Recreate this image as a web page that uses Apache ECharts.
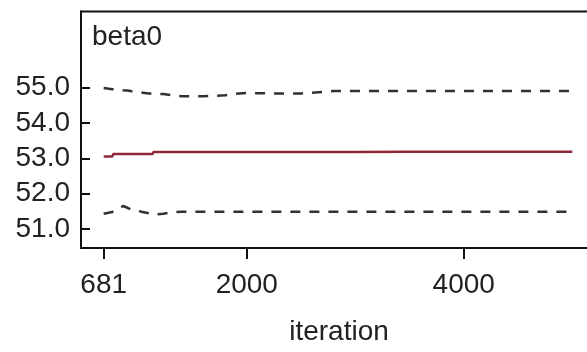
<!DOCTYPE html>
<html>
<head>
<meta charset="utf-8">
<script src="https://cdn.jsdelivr.net/npm/echarts@6/dist/echarts.min.js"></script>
<style>
  html, body { margin: 0; padding: 0; background: #ffffff; }
  #chart { width: 587px; height: 352px; }
</style>
</head>
<body>
<div id="chart"></div>
<script>
// Running quantiles of beta0 over the MCMC iterations
const iterations = [681, 760, 770, 860, 900, 940, 1000, 1040, 1100, 1130, 1140, 1230, 1300, 1400, 1500, 1600, 1700, 1800, 1900, 2000, 2200, 2500, 2700, 2800, 3000, 3500, 4000, 4500, 5000];
const median = [53.05, 53.05, 53.12, 53.12, 53.12, 53.12, 53.12, 53.12, 53.12, 53.12, 53.18, 53.18, 53.18, 53.18, 53.18, 53.18, 53.18, 53.18, 53.18, 53.18, 53.18, 53.18, 53.18, 53.18, 53.18, 53.19, 53.19, 53.19, 53.19];
const upper97_5 = [54.99, 54.96, 54.96, 54.93, 54.92, 54.90, 54.87, 54.86, 54.84, 54.84, 54.84, 54.82, 54.79, 54.76, 54.76, 54.76, 54.77, 54.79, 54.83, 54.85, 54.84, 54.84, 54.88, 54.91, 54.91, 54.91, 54.91, 54.91, 54.91];
const lower2_5 = [51.43, 51.48, 51.50, 51.65, 51.60, 51.54, 51.51, 51.48, 51.44, 51.41, 51.40, 51.43, 51.47, 51.49, 51.49, 51.49, 51.49, 51.49, 51.49, 51.49, 51.49, 51.49, 51.49, 51.49, 51.49, 51.49, 51.49, 51.49, 51.49];

const xTicks = [681, 2000, 4000];
const yTicks = [51, 52, 53, 54, 55];
const title = 'beta0';
const xName = 'iteration';

const pairs = (vals) => iterations.map((it, i) => [it, vals[i]]);

const font = "'Liberation Sans', Arial, sans-serif";
const textColor = '#222222';

const chart = echarts.init(document.getElementById('chart'), null, { renderer: 'canvas' });

chart.setOption({
  animation: false,
  backgroundColor: '#ffffff',
  title: {
    text: title,
    left: 92,
    top: 23,
    padding: 0,
    textStyle: { fontFamily: font, fontSize: 28, fontWeight: 'normal', color: textColor }
  },
  grid: {
    left: 81,
    top: 11.5,
    width: 516,
    height: 236.5,
    outerBoundsMode: 'none',
    containLabel: false,
    show: true,
    borderColor: '#111111',
    borderWidth: 2,
    backgroundColor: 'transparent'
  },
  xAxis: {
    type: 'value',
    min: 472,
    max: 5228,
    name: xName,
    nameLocation: 'middle',
    nameGap: 70,
    nameTextStyle: { fontFamily: font, fontSize: 28, color: textColor },
    axisLine: { show: true, lineStyle: { color: '#111111', width: 2 } },
    axisTick: { show: true, inside: false, length: 11, customValues: xTicks, lineStyle: { color: '#111111', width: 2 } },
    axisLabel: {
      customValues: xTicks,
      margin: 23,
      fontFamily: font,
      fontSize: 28,
      color: textColor,
      formatter: (v) => String(v)
    },
    splitLine: { show: false }
  },
  yAxis: {
    type: 'value',
    min: 50.46,
    max: 57.16,
    axisLine: { show: true, lineStyle: { color: '#111111', width: 2 } },
    axisTick: { show: true, inside: true, length: 9, customValues: yTicks, lineStyle: { color: '#111111', width: 2 } },
    axisLabel: {
      customValues: yTicks,
      margin: 11,
      fontFamily: font,
      fontSize: 28,
      color: textColor,
      formatter: (v) => v.toFixed(1)
    },
    splitLine: { show: false }
  },
  series: [
    {
      name: '97.5%',
      type: 'line',
      data: pairs(upper97_5),
      showSymbol: false,
      lineStyle: { color: '#35302f', width: 2.5, type: [10, 9] }
    },
    {
      name: 'median',
      type: 'line',
      data: pairs(median),
      showSymbol: false,
      lineStyle: { color: '#8e2838', width: 2.5 }
    },
    {
      name: '2.5%',
      type: 'line',
      data: pairs(lower2_5),
      showSymbol: false,
      lineStyle: { color: '#35302f', width: 2.5, type: [10, 9] }
    }
  ]
});
</script>
</body>
</html>
